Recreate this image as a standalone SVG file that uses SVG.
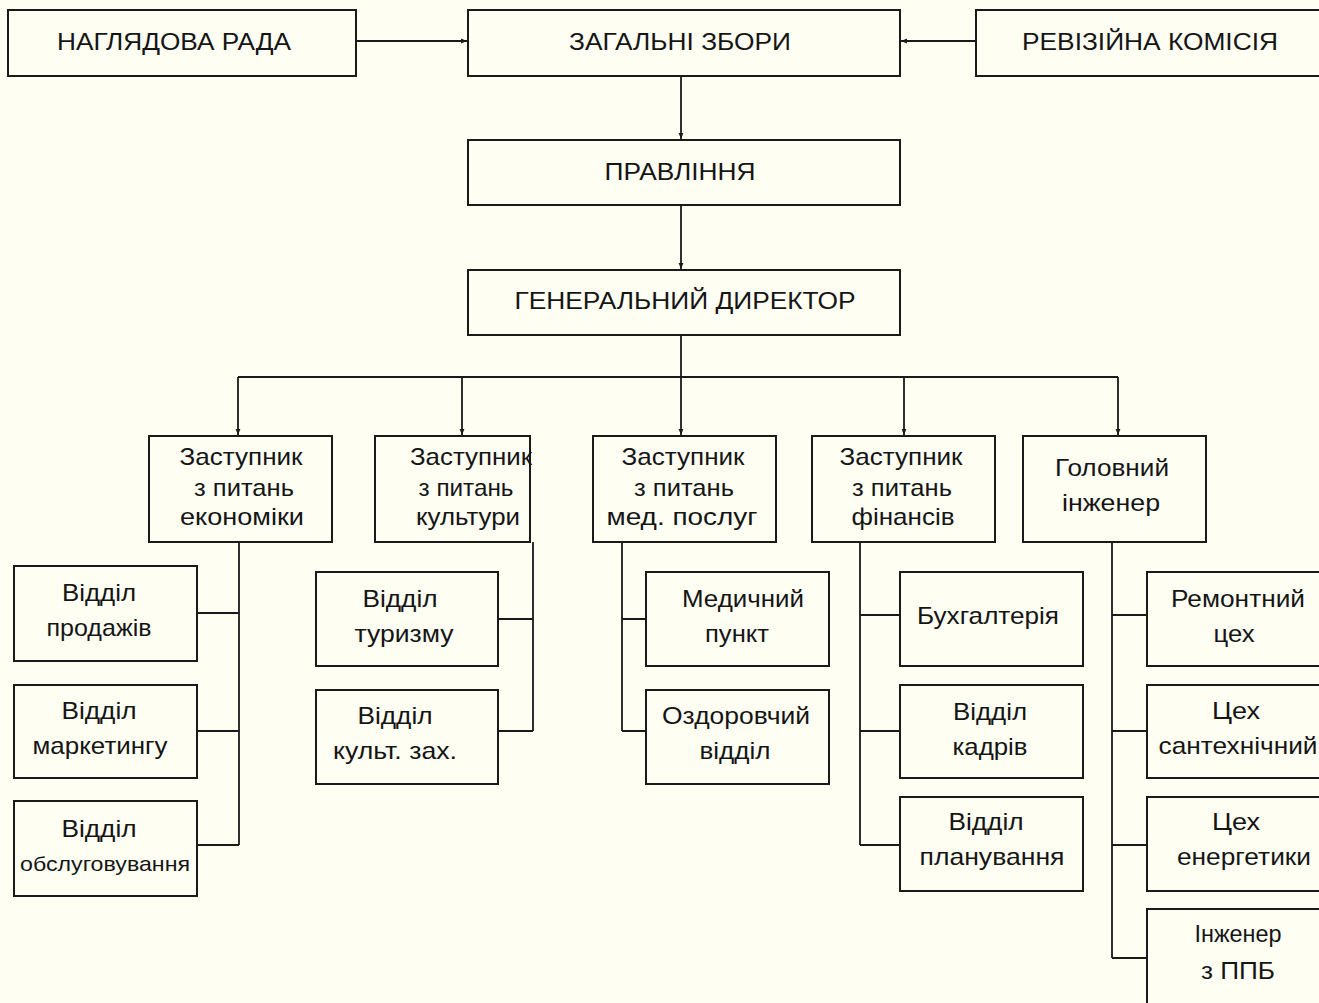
<svg xmlns="http://www.w3.org/2000/svg" width="1319" height="1003" viewBox="0 0 1319 1003">
<style>
.b{fill:none;stroke:#1a1a1a;stroke-width:2}
.c{fill:none;stroke:#1a1a1a;stroke-width:1.8}
text{font-family:"Liberation Sans",Arial,sans-serif;font-size:24px;fill:#151515;text-anchor:middle}
.s{font-size:21px}
</style>
<defs>
<marker id="ar" viewBox="0 0 10 10" refX="10" refY="5" markerWidth="6" markerHeight="6" orient="auto" markerUnits="userSpaceOnUse">
<path d="M0,1 L10,5 L0,9 z" fill="#1a1a1a"/>
</marker>
</defs>
<rect width="1319" height="1003" fill="#FEFEF3"/>
<g id="connectors">
<path class="c" d="M356,41 H467" marker-end="url(#ar)"/>
<path class="c" d="M976,41 H901" marker-end="url(#ar)"/>
<path class="c" d="M681,76 V139" marker-end="url(#ar)"/>
<path class="c" d="M681,205 V269" marker-end="url(#ar)"/>
<path class="c" d="M681,335 V435" marker-end="url(#ar)"/>
<path class="c" d="M238,377 H1118"/>
<path class="c" d="M238,377 V435" marker-end="url(#ar)"/>
<path class="c" d="M462,377 V435" marker-end="url(#ar)"/>
<path class="c" d="M904,377 V435" marker-end="url(#ar)"/>
<path class="c" d="M1118,377 V435" marker-end="url(#ar)"/>
<path class="c" d="M239,542 V845 M197,613 H239 M197,731 H239 M197,845 H239"/>
<path class="c" d="M533,542 V731 M498,619 H533 M498,731 H533"/>
<path class="c" d="M622,542 V731 M622,619 H646 M622,731 H646"/>
<path class="c" d="M860,542 V845 M860,615 H900 M860,731 H900 M860,845 H900"/>
<path class="c" d="M1112,542 V958 M1112,615 H1147 M1112,731 H1147 M1112,845 H1147 M1112,958 H1147"/>
</g>
<g id="n-nagliadova"><rect class="b" x="8" y="10" width="348" height="66"/><text x="174" y="50" textLength="234" lengthAdjust="spacingAndGlyphs">НАГЛЯДОВА РАДА</text></g>
<g id="n-zagalni"><rect class="b" x="468" y="10" width="432" height="66"/><text x="680" y="50" textLength="222" lengthAdjust="spacingAndGlyphs">ЗАГАЛЬНІ ЗБОРИ</text></g>
<g id="n-revizijna"><rect class="b" x="976" y="10" width="350" height="66"/><text x="1150" y="50" textLength="256" lengthAdjust="spacingAndGlyphs">РЕВІЗІЙНА КОМІСІЯ</text></g>
<g id="n-pravlinnia"><rect class="b" x="468" y="140" width="432" height="65"/><text x="680" y="180" textLength="151" lengthAdjust="spacingAndGlyphs">ПРАВЛІННЯ</text></g>
<g id="n-gendyr"><rect class="b" x="468" y="270" width="432" height="65"/><text x="685" y="309" textLength="341" lengthAdjust="spacingAndGlyphs">ГЕНЕРАЛЬНИЙ ДИРЕКТОР</text></g>
<g id="n-ekonomika"><rect class="b" x="149" y="436" width="183" height="106"/><text x="241" y="465" textLength="123" lengthAdjust="spacingAndGlyphs">Заступник</text><text x="244" y="496" textLength="100" lengthAdjust="spacingAndGlyphs">з питань</text><text x="242" y="525" textLength="124" lengthAdjust="spacingAndGlyphs">економіки</text></g>
<g id="n-kultura"><rect class="b" x="375" y="436" width="155" height="106"/><text x="471" y="465" textLength="122" lengthAdjust="spacingAndGlyphs">Заступник</text><text x="466" y="496" textLength="95" lengthAdjust="spacingAndGlyphs">з питань</text><text x="468" y="525" textLength="104" lengthAdjust="spacingAndGlyphs">культури</text></g>
<g id="n-med"><rect class="b" x="593" y="436" width="183" height="106"/><text x="683" y="465" textLength="123" lengthAdjust="spacingAndGlyphs">Заступник</text><text x="684" y="496" textLength="100" lengthAdjust="spacingAndGlyphs">з питань</text><text x="682" y="525" textLength="151" lengthAdjust="spacingAndGlyphs">мед. послуг</text></g>
<g id="n-finansy"><rect class="b" x="812" y="436" width="183" height="106"/><text x="901" y="465" textLength="123" lengthAdjust="spacingAndGlyphs">Заступник</text><text x="902" y="496" textLength="100" lengthAdjust="spacingAndGlyphs">з питань</text><text x="903" y="525" textLength="103" lengthAdjust="spacingAndGlyphs">фінансів</text></g>
<g id="n-inzhener"><rect class="b" x="1023" y="436" width="183" height="106"/><text x="1112" y="476" textLength="114" lengthAdjust="spacingAndGlyphs">Головний</text><text x="1111" y="511" textLength="98" lengthAdjust="spacingAndGlyphs">інженер</text></g>
<g id="n-prodazhi"><rect class="b" x="14" y="566" width="183" height="95"/><text x="99" y="601" textLength="74" lengthAdjust="spacingAndGlyphs">Відділ</text><text x="99" y="636" textLength="105" lengthAdjust="spacingAndGlyphs">продажів</text></g>
<g id="n-marketing"><rect class="b" x="14" y="685" width="183" height="93"/><text x="99" y="719" textLength="75" lengthAdjust="spacingAndGlyphs">Відділ</text><text x="100" y="754" textLength="135" lengthAdjust="spacingAndGlyphs">маркетингу</text></g>
<g id="n-obsl"><rect class="b" x="14" y="801" width="183" height="95"/><text x="99" y="837" textLength="75" lengthAdjust="spacingAndGlyphs">Відділ</text><text class="s" x="105" y="871" textLength="170" lengthAdjust="spacingAndGlyphs">обслуговування</text></g>
<g id="n-turyzm"><rect class="b" x="316" y="572" width="182" height="94"/><text x="400" y="607" textLength="75" lengthAdjust="spacingAndGlyphs">Відділ</text><text x="404" y="642" textLength="99" lengthAdjust="spacingAndGlyphs">туризму</text></g>
<g id="n-kult"><rect class="b" x="316" y="690" width="182" height="94"/><text x="395" y="724" textLength="75" lengthAdjust="spacingAndGlyphs">Відділ</text><text x="395" y="759" textLength="124" lengthAdjust="spacingAndGlyphs">культ. зах.</text></g>
<g id="n-medpunkt"><rect class="b" x="646" y="572" width="183" height="94"/><text x="743" y="607" textLength="122" lengthAdjust="spacingAndGlyphs">Медичний</text><text x="737" y="642" textLength="64" lengthAdjust="spacingAndGlyphs">пункт</text></g>
<g id="n-ozdor"><rect class="b" x="646" y="690" width="183" height="94"/><text x="736" y="724" textLength="148" lengthAdjust="spacingAndGlyphs">Оздоровчий</text><text x="735" y="759" textLength="71" lengthAdjust="spacingAndGlyphs">відділ</text></g>
<g id="n-buh"><rect class="b" x="900" y="572" width="183" height="94"/><text x="988" y="624" textLength="142" lengthAdjust="spacingAndGlyphs">Бухгалтерія</text></g>
<g id="n-kadry"><rect class="b" x="900" y="685" width="183" height="93"/><text x="990" y="720" textLength="74" lengthAdjust="spacingAndGlyphs">Відділ</text><text x="990" y="755" textLength="75" lengthAdjust="spacingAndGlyphs">кадрів</text></g>
<g id="n-plan"><rect class="b" x="900" y="797" width="183" height="94"/><text x="986" y="830" textLength="75" lengthAdjust="spacingAndGlyphs">Відділ</text><text x="992" y="865" textLength="145" lengthAdjust="spacingAndGlyphs">планування</text></g>
<g id="n-remont"><rect class="b" x="1147" y="572" width="180" height="94"/><text x="1238" y="607" textLength="134" lengthAdjust="spacingAndGlyphs">Ремонтний</text><text x="1234" y="642" textLength="41" lengthAdjust="spacingAndGlyphs">цех</text></g>
<g id="n-santeh"><rect class="b" x="1147" y="685" width="180" height="93"/><text x="1236" y="719" textLength="48" lengthAdjust="spacingAndGlyphs">Цех</text><text x="1238" y="754" textLength="159" lengthAdjust="spacingAndGlyphs">сантехнічний</text></g>
<g id="n-energ"><rect class="b" x="1147" y="797" width="180" height="94"/><text x="1236" y="830" textLength="48" lengthAdjust="spacingAndGlyphs">Цех</text><text x="1244" y="865" textLength="134" lengthAdjust="spacingAndGlyphs">енергетики</text></g>
<g id="n-ppb"><rect class="b" x="1147" y="909" width="180" height="110"/><text x="1238" y="942" textLength="87" lengthAdjust="spacingAndGlyphs">Інженер</text><text x="1238" y="979" textLength="74" lengthAdjust="spacingAndGlyphs">з ППБ</text></g>
</svg>
